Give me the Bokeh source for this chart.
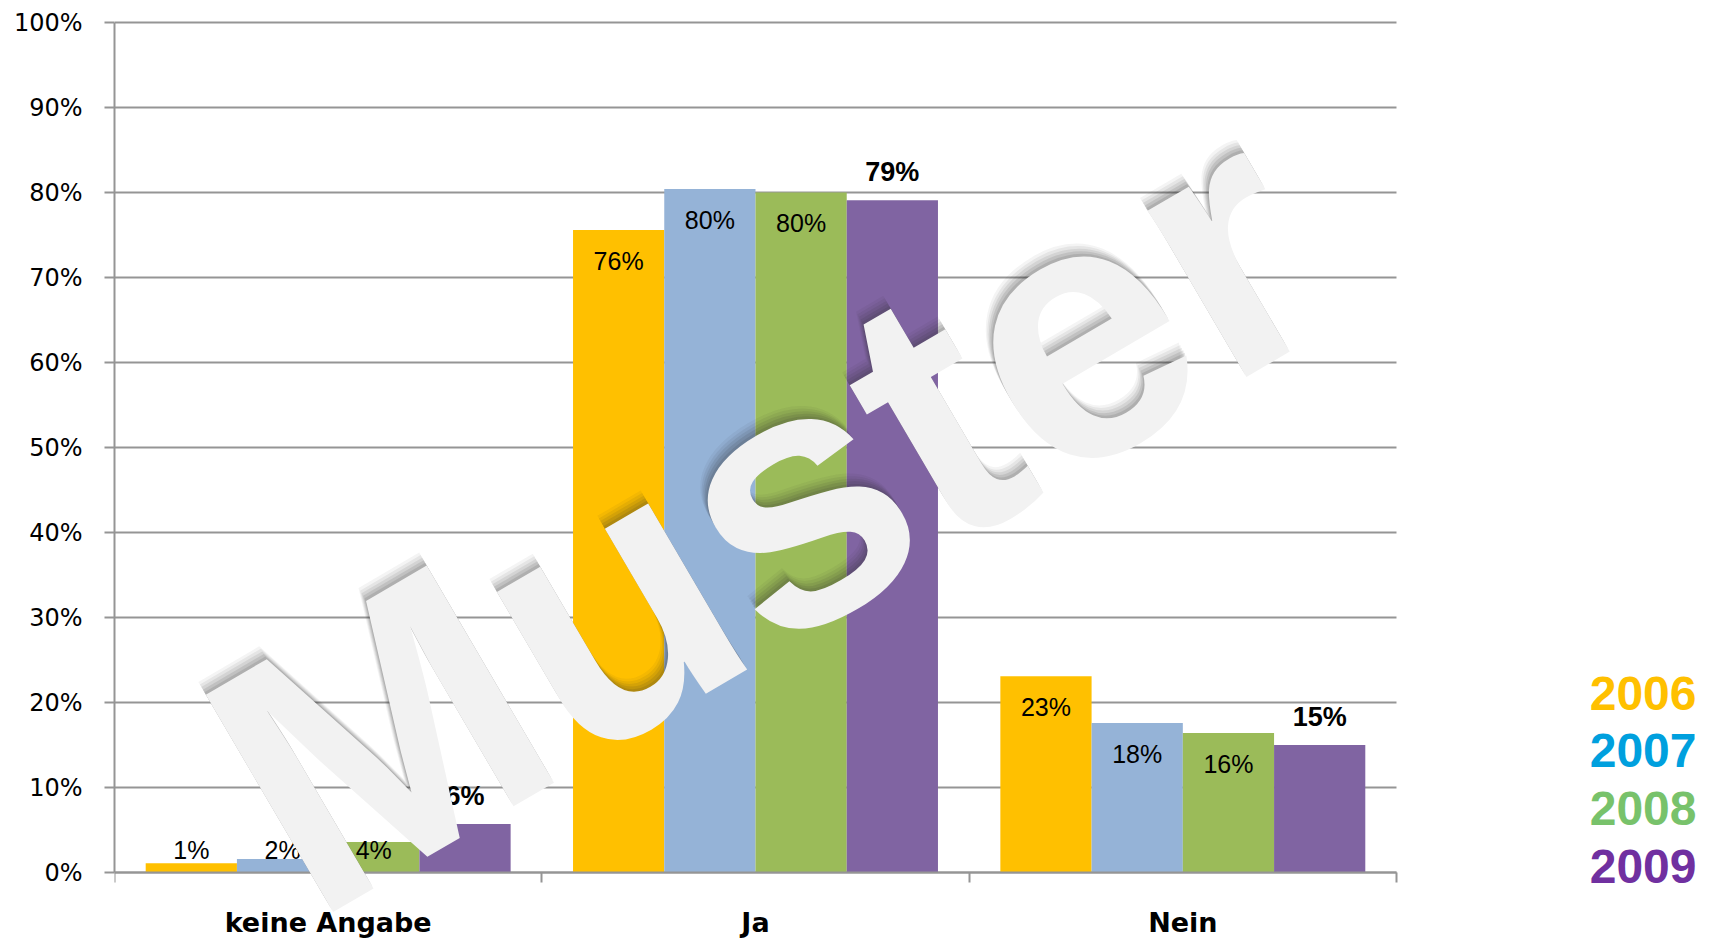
from bokeh.plotting import figure
from bokeh.models import FixedTicker, PrintfTickFormatter, Label, ColumnDataSource, Range1d
from bokeh.transform import dodge
from bokeh.embed import file_html
from bokeh.resources import INLINE
from bokeh.core.properties import value

# ---- data ----
categories = ["keine Angabe", "Ja", "Nein"]
years = ["2006", "2007", "2008", "2009"]
v2006 = [1.1, 75.6, 23.1]
v2007 = [1.6, 80.4, 17.6]
v2008 = [3.6, 80.0, 16.4]
v2009 = [5.7, 79.1, 15.0]
y_ticks = [0, 10, 20, 30, 40, 50, 60, 70, 80, 90, 100]

# ---- styles / layout ----
bar_colors = ["#FFC000", "#95B3D7", "#9BBB59", "#8064A2"]
legend_colors = ["#FFC000", "#00A0DE", "#78C26B", "#7030A0"]
grid_color = "#959595"
bar_w = 0.2135
inside_pad = 3.6     # label centre below bar top (data units)
inside_min = 2.7     # lowest label centre
outside_pad = 3.3    # label centre above bar top

frame_w, frame_h = 1586, 927
cat_px = 427.33      # pixels per category
pct_px = 8.5         # pixels per percent
top_px = 10          # frame space above 100%
x_end = frame_w / cat_px
y_end = 100 + top_px / pct_px
y_start = y_end - frame_h / pct_px

p = figure(frame_width=frame_w, frame_height=frame_h,
           x_range=Range1d(0, x_end), y_range=Range1d(y_start, y_end),
           output_backend="svg", toolbar_location=None, tools="",
           min_border_left=114, min_border_right=0,
           min_border_top=12, min_border_bottom=0)
p.outline_line_color = None
p.background_fill_color = "white"
p.border_fill_color = "white"

# horizontal grid lines limited to the category area
p.segment(x0=0, x1=len(categories), y0=y_ticks, y1=y_ticks,
          line_color=grid_color, line_width=2)

cx = [i + 0.5 for i in range(len(categories))]
series = [v2006, v2007, v2008, v2009]

for k, vals in enumerate(series):
    off = (k - (len(series) - 1) / 2) * bar_w
    last = k == len(series) - 1
    if last:
        ly = [v + outside_pad for v in vals]
    else:
        ly = [max(v - inside_pad, inside_min) for v in vals]
    src = ColumnDataSource(dict(x=cx, top=vals, ly=ly,
                                lab=[f"{round(v)}%" for v in vals]))
    p.vbar(x=dodge("x", off, range=p.x_range), top="top", bottom=0, width=bar_w,
           fill_color=bar_colors[k], line_color=None, source=src)
    p.text(x=dodge("x", off, range=p.x_range), y="ly", text="lab", source=src,
           text_align="center", text_baseline="middle",
           text_font=value("Liberation Sans"),
           text_font_size="27px" if last else "25px",
           text_font_style="bold" if last else "normal",
           text_color="black")

# ---- axes ----
yt = FixedTicker(ticks=y_ticks)
p.yaxis.ticker = yt
p.yaxis.bounds = (y_ticks[0], y_ticks[-1])
p.yaxis.formatter = PrintfTickFormatter(format="%d%%")
p.yaxis.major_label_text_font = "DejaVu Sans"
p.yaxis.major_label_text_font_size = "24px"
p.yaxis.major_label_text_color = "black"
p.yaxis.major_tick_out = 10
p.yaxis.major_tick_in = 0
p.yaxis.major_tick_line_color = grid_color
p.yaxis.major_tick_line_width = 2
p.yaxis.minor_tick_line_color = None
p.yaxis.major_label_standoff = 22
p.yaxis.axis_line_color = grid_color
p.yaxis.axis_line_width = 2

p.xaxis.fixed_location = 0
p.xaxis.bounds = (0, len(categories))
p.xaxis.ticker = FixedTicker(ticks=cx, minor_ticks=list(range(len(categories) + 1)))
p.xaxis.major_label_overrides = {x: c for x, c in zip(cx, categories)}
p.xaxis.major_label_text_font = "DejaVu Sans"
p.xaxis.major_label_text_font_style = "bold"
p.xaxis.major_label_text_font_size = "27px"
p.xaxis.major_label_text_color = "black"
p.xaxis.major_tick_out = 0
p.xaxis.major_tick_in = 0
p.xaxis.major_tick_line_color = None
p.xaxis.minor_tick_out = 10
p.xaxis.minor_tick_in = 0
p.xaxis.minor_tick_line_color = grid_color
p.xaxis.minor_tick_line_width = 2
p.xaxis.major_label_standoff = 24
p.xaxis.axis_line_color = grid_color
p.xaxis.axis_line_width = 2

p.xgrid.visible = False
p.ygrid.visible = False

# ---- watermark "Muster" with soft shadow ----
wm_x, wm_y, wm_angle, wm_size = 0.3126, 6.73, 0.53, "366px"
for d, a in [(15, 0.05), (12, 0.07), (9, 0.09), (6, 0.11), (3, 0.12)]:
    p.add_layout(Label(x=wm_x, y=wm_y, text="Muster", angle=wm_angle,
                       x_offset=-0.5 * d, y_offset=0.86 * d,
                       text_font="Liberation Sans", text_font_style="bold",
                       text_font_size=wm_size, text_color="#303030", text_alpha=a,
                       text_align="left", text_baseline="middle"))
p.add_layout(Label(x=wm_x, y=wm_y, text="Muster", angle=wm_angle,
                   text_font="Liberation Sans", text_font_style="bold",
                   text_font_size=wm_size, text_color="#F2F2F2",
                   text_align="left", text_baseline="middle"))

# ---- year legend (coloured texts) ----
for i, (yr, col) in enumerate(zip(years, legend_colors)):
    p.add_layout(Label(x=3.702, y=21.1 - i * 6.8, text=yr,
                       text_font="Liberation Sans", text_font_style="bold",
                       text_font_size="48px", text_color=col,
                       text_align="right", text_baseline="middle"))

open("out.html", "w").write(file_html(p, INLINE))
